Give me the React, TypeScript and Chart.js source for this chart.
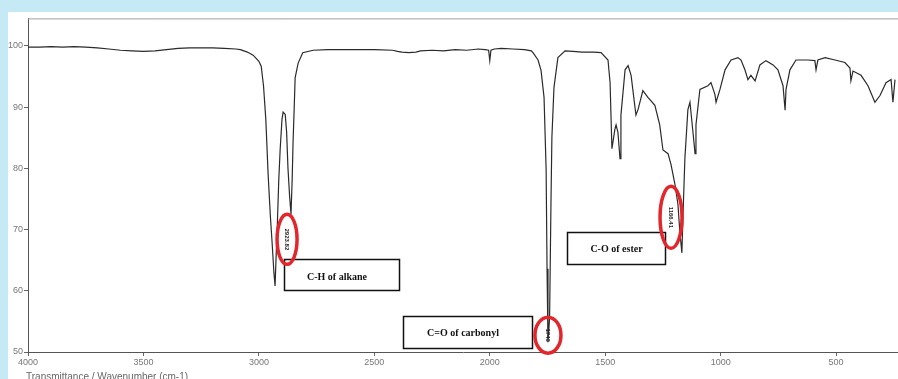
import { useEffect, useRef } from "react";
import { Chart, registerables } from "chart.js";
Chart.register(...registerables);

const wavenumbers = [
  4000, 3950, 3900, 3850, 3800, 3750, 3700, 3650, 3600, 3550, 3500, 3450, 3400, 3350, 3300, 3250, 3200, 3150, 3100, 3080,
  3050, 3025, 3000, 2990, 2980, 2970, 2960, 2950, 2943, 2935, 2930, 2925, 2920, 2914, 2908, 2900, 2895, 2890, 2886, 2880,
  2874, 2867, 2861, 2856, 2852, 2847, 2843, 2830, 2810, 2765, 2700, 2600, 2500, 2420, 2400, 2380, 2350, 2320, 2300, 2250,
  2200, 2150, 2100, 2050, 2020, 2005, 2000, 1995, 1980, 1950, 1900, 1850, 1820, 1813, 1791, 1778, 1765, 1756, 1752, 1748,
  1741, 1735, 1731, 1722, 1705, 1674, 1640, 1600, 1550, 1518, 1488, 1479, 1471, 1458, 1453, 1445, 1436, 1432, 1414, 1401,
  1388, 1367, 1358, 1337, 1315, 1285, 1264, 1250, 1228, 1215, 1198, 1185, 1177, 1168, 1163, 1155, 1142, 1133, 1120, 1111,
  1107, 1090, 1055, 1042, 1025, 1020, 1003, 981, 955, 925, 912, 895, 882, 869, 851, 830, 804, 773, 752, 730,
  721, 717, 700, 674, 622, 592, 587, 579, 548, 505, 462, 440, 436, 427, 392, 362, 332, 310, 284, 262,
  254, 245,
];
const transmittance = [
  99.8, 99.8, 99.9, 99.8, 99.9, 99.8, 99.7, 99.5, 99.3, 99.2, 99.1, 99.2, 99.4, 99.6, 99.7, 99.7, 99.7, 99.6, 99.5, 99.4,
  99.0, 98.5, 97.5, 96.7, 93.5, 88.0, 79.0, 72.0, 68.0, 63.0, 60.8, 66.0, 71.0, 78.0, 83.0, 88.0, 89.2, 89.0, 88.8, 86.0,
  80.0, 75.5, 72.5, 78.0, 84.3, 90.0, 94.8, 97.2, 98.9, 99.3, 99.4, 99.4, 99.4, 99.3, 99.1, 99.0, 98.9, 99.0, 99.2, 99.3,
  99.2, 99.4, 99.3, 99.5, 99.4, 99.3, 97.6, 99.3, 99.5, 99.6, 99.5, 99.4, 99.2, 98.9, 97.7, 96.0, 91.6, 79.8, 63.6, 51.6,
  55.5, 74.3, 85.1, 93.2, 98.1, 99.2, 99.1, 99.0, 99.0, 98.9, 97.7, 94.0, 83.2, 86.4, 87.1, 85.9, 81.6, 88.7, 96.1, 96.8,
  95.2, 88.7, 89.6, 92.7, 91.6, 90.3, 87.1, 83.0, 82.4, 80.6, 77.4, 74.1, 69.7, 66.2, 72.5, 81.6, 89.6, 90.8, 85.9, 82.4,
  87.1, 92.9, 93.5, 94.0, 92.1, 90.8, 92.9, 96.1, 97.7, 98.1, 97.7, 96.1, 94.5, 95.2, 94.3, 96.9, 97.6, 96.9, 96.1, 93.5,
  89.5, 92.9, 96.1, 97.7, 97.7, 97.6, 96.1, 97.7, 98.1, 97.7, 97.3, 96.4, 94.3, 95.9, 95.2, 93.5, 90.8, 91.9, 94.0, 94.5,
  90.8, 94.5,
];

const xTicks = [4000, 3500, 3000, 2500, 2000, 1500, 1000, 500];
const yTicks = [50, 60, 70, 80, 90, 100];
const axisTitle = "Transmittance / Wavenumber (cm-1)";

// annotation boxes: [wavenumber left, wavenumber right, T top, T bottom]
const boxLabels = ["C-H of alkane", "C=O of carbonyl", "C-O of ester"];
const boxRanges = [
  [2891, 2393, 65.2, 60.2],
  [2376, 1817, 55.8, 50.6],
  [1666, 1241, 69.6, 64.4],
];
// peak marks: [wavenumber, T]
const peakMarks = [
  [2878, 68.4],
  [1748, 52.75],
  [1215, 72.0],
];
const peakLabels = ["2923.82", "1740", "1166.41"];

export default function App() {
  const ref = useRef<HTMLCanvasElement | null>(null);
  useEffect(() => {
    document.body.style.background = "#c5eaf6";
    document.body.style.overflow = "hidden";
    const canvas = ref.current!;
    const radii = [
      [10, 25],
      [13, 18],
      [11, 31],
    ];
    const boxOffsets = [
      [-5, 2],
      [-5, 1],
      [0, 1],
    ];
    const annot = {
      id: "annot",
      afterDatasetsDraw(chart: any) {
        const { ctx, chartArea, scales } = chart;
        const xs = scales.x;
        const ys = scales.y;
        ctx.save();
        ctx.strokeStyle = "#a0a0a0";
        ctx.lineWidth = 1;
        ctx.beginPath();
        ctx.moveTo(chartArea.left, chartArea.top + 0.5);
        ctx.lineTo(chartArea.right, chartArea.top + 0.5);
        ctx.stroke();
        boxRanges.forEach((b, i) => {
          const x1 = Math.round(xs.getPixelForValue(b[0])) + 0.5;
          const x2 = Math.round(xs.getPixelForValue(b[1])) + 0.5;
          const y1 = Math.round(ys.getPixelForValue(b[2])) + 0.5;
          const y2 = Math.round(ys.getPixelForValue(b[3])) + 0.5;
          ctx.fillStyle = "#ffffff";
          ctx.fillRect(x1, y1, x2 - x1, y2 - y1);
          ctx.strokeStyle = "#111";
          ctx.lineWidth = 1.5;
          ctx.strokeRect(x1, y1, x2 - x1, y2 - y1);
          ctx.fillStyle = "#111";
          ctx.font = "bold 10px 'Liberation Serif'";
          ctx.textAlign = "center";
          ctx.textBaseline = "middle";
          ctx.fillText(boxLabels[i], (x1 + x2) / 2 + boxOffsets[i][0], (y1 + y2) / 2 + boxOffsets[i][1]);
        });
        peakMarks.forEach((p, i) => {
          const cx = xs.getPixelForValue(p[0]);
          const cy = ys.getPixelForValue(p[1]);
          ctx.fillStyle = "#222";
          ctx.font = "bold 6px 'Liberation Sans'";
          ctx.textAlign = "center";
          ctx.textBaseline = "middle";
          ctx.save();
          ctx.translate(cx, cy);
          ctx.rotate(Math.PI / 2);
          ctx.fillText(peakLabels[i], 0, 0);
          ctx.restore();
          ctx.strokeStyle = "#e3262b";
          ctx.lineWidth = 3.5;
          ctx.beginPath();
          ctx.ellipse(cx, cy, radii[i][0], radii[i][1], 0, 0, Math.PI * 2);
          ctx.stroke();
        });
        ctx.fillStyle = "#666";
        ctx.font = "10px 'Liberation Sans'";
        ctx.textAlign = "left";
        ctx.textBaseline = "top";
        ctx.fillText(axisTitle, 18, 360);
        ctx.restore();
      },
    };
    const chart = new Chart(canvas, {
      type: "line",
      data: {
        datasets: [
          {
            data: wavenumbers.map((w, i) => ({ x: w, y: transmittance[i] })),
            borderColor: "#2a2a2a",
            borderWidth: 1.2,
            pointRadius: 0,
            tension: 0,
            fill: false,
          },
        ],
      },
      options: {
        animation: false,
        responsive: false,
        maintainAspectRatio: false,
        layout: { padding: { top: 3, left: 0, right: 0, bottom: 0 } },
        plugins: { legend: { display: false }, tooltip: { enabled: false } },
        scales: {
          x: {
            type: "linear",
            reverse: true,
            min: 232,
            max: 4000,
            afterBuildTicks: (s: any) => {
              s.ticks = xTicks.map((v) => ({ value: v }));
            },
            afterFit: (s: any) => {
              s.height = 27;
            },
            grid: { drawOnChartArea: false, drawTicks: true, tickLength: 4, color: "#666" },
            border: { color: "#555", width: 1 },
            ticks: {
              autoSkip: false,
              maxRotation: 0,
              padding: 1,
              color: "#777",
              font: { family: "'Liberation Sans'", size: 9 },
              callback: (v: any) => String(v),
            },
          },
          y: {
            type: "linear",
            min: 50,
            max: 104.5,
            afterBuildTicks: (s: any) => {
              s.ticks = yTicks.map((v) => ({ value: v }));
            },
            afterFit: (s: any) => {
              s.width = 20;
            },
            grid: { drawOnChartArea: false, drawTicks: true, tickLength: 4, color: "#666" },
            border: { color: "#555", width: 1 },
            ticks: {
              padding: 1,
              color: "#777",
              font: { family: "'Liberation Sans'", size: 9 },
              callback: (v: any) => String(v),
            },
          },
        },
      },
      plugins: [annot],
    });
    return () => chart.destroy();
  }, []);
  return (
    <div style={{ position: "absolute", left: 8, top: 12, width: 890, height: 367, background: "#ffffff" }}>
      <canvas ref={ref} width={890} height={367} style={{ display: "block", width: 890, height: 367 }} />
    </div>
  );
}
